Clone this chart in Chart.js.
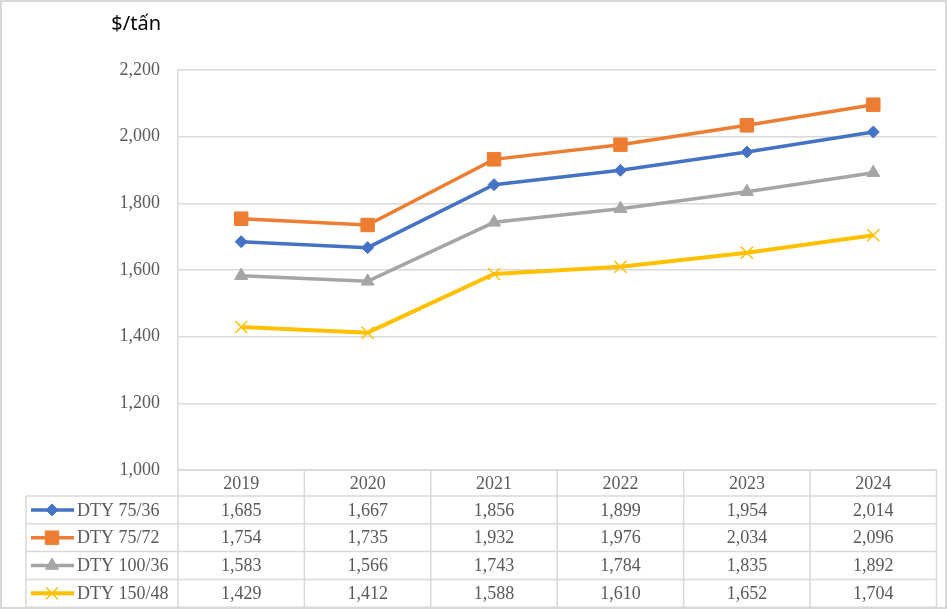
<!DOCTYPE html>
<html>
<head>
<meta charset="utf-8">
<script src="https://cdn.jsdelivr.net/npm/chart.js@4.4.1/dist/chart.umd.min.js"></script>
<style>
  html, body { margin: 0; padding: 0; background: #fff; }
  canvas { display: block; }
</style>
</head>
<body>
<canvas id="chart" width="947" height="609"></canvas>
<script>
// data
const years = ['2019', '2020', '2021', '2022', '2023', '2024'];
const seriesNames = ['DTY 75/36', 'DTY 75/72', 'DTY 100/36', 'DTY 150/48'];
const dty7536 = [1685, 1667, 1856, 1899, 1954, 2014];
const dty7572 = [1754, 1735, 1932, 1976, 2034, 2096];
const dty10036 = [1583, 1566, 1743, 1784, 1835, 1892];
const dty15048 = [1429, 1412, 1588, 1610, 1652, 1704];
const yTicks = [1000, 1200, 1400, 1600, 1800, 2000, 2200];
const unitLabel = '$/tấn';

const colours = ['#4472C4', '#ED7D31', '#A5A5A5', '#FFC000'];
const serif = '"Liberation Serif", "Times New Roman", serif';
const grey = '#d9d9d9';
const textGrey = '#595959';

function fmt(v) {
    return v.toLocaleString('en-US');
}

function ds(label, data, colour, style, radius, lw, pbw) {
    return {
        label: label,
        data: data,
        borderColor: colour,
        backgroundColor: colour,
        borderWidth: lw,
        pointStyle: style,
        pointRadius: radius,
        pointBorderWidth: pbw,
        pointBackgroundColor: colour,
        pointBorderColor: colour,
        tension: 0
    };
}

// table under the plot + unit label + outer border
const tablePlugin = {
    id: 'dataTable',
    afterDraw(chart) {
        const ctx = chart.ctx;
        const x = chart.scales.x;
        const area = chart.chartArea;
        const half = (x.getPixelForValue(1) - x.getPixelForValue(0)) / 2;
        const top = area.bottom;
        const headH = 26;
        const rowH = 27.8;
        const legendLeft = 26;
        const bottom = top + headH + rowH * seriesNames.length;

        ctx.save();
        ctx.strokeStyle = grey;
        ctx.lineWidth = 1.5;
        ctx.beginPath();
        // horizontal lines
        ctx.moveTo(area.left, top);
        ctx.lineTo(area.right, top);
        for (let r = 0; r <= seriesNames.length; r++) {
            const y = top + headH + rowH * r;
            ctx.moveTo(legendLeft, y);
            ctx.lineTo(area.right, y);
        }
        // vertical lines
        for (let i = 0; i <= years.length; i++) {
            const vx = i < years.length ? x.getPixelForValue(i) - half : x.getPixelForValue(i - 1) + half;
            ctx.moveTo(vx, top);
            ctx.lineTo(vx, bottom);
        }
        ctx.moveTo(legendLeft, top + headH);
        ctx.lineTo(legendLeft, bottom);
        ctx.stroke();

        ctx.font = '18px ' + serif;
        ctx.fillStyle = textGrey;
        ctx.textAlign = 'center';
        ctx.textBaseline = 'middle';
        years.forEach((yr, i) => {
            ctx.fillText(yr, x.getPixelForValue(i), top + headH / 2 + 1);
        });

        chart.data.datasets.forEach((d, r) => {
            const cy = top + headH + rowH * r + rowH / 2 + 1;
            ctx.textAlign = 'center';
            ctx.fillStyle = textGrey;
            d.data.forEach((v, i) => {
                ctx.fillText(fmt(v), x.getPixelForValue(i), cy);
            });
            // legend key
            ctx.strokeStyle = d.borderColor;
            ctx.lineWidth = d.borderWidth;
            ctx.beginPath();
            ctx.moveTo(31, cy - 1);
            ctx.lineTo(74, cy - 1);
            ctx.stroke();
            ctx.fillStyle = d.pointBackgroundColor;
            ctx.strokeStyle = d.pointBorderColor;
            ctx.lineWidth = d.pointBorderWidth;
            Chart.helpers.drawPoint(ctx, {
                pointStyle: d.pointStyle,
                radius: d.pointRadius,
                rotation: 0,
                borderWidth: d.pointBorderWidth
            }, 52, cy - 1);
            ctx.fillStyle = textGrey;
            ctx.textAlign = 'left';
            ctx.fillText(d.label, 77, cy);
        });

        // unit label
        ctx.font = '20px "Noto Sans", "Open Sans", sans-serif';
        ctx.fillStyle = '#000';
        ctx.textAlign = 'right';
        ctx.textBaseline = 'alphabetic';
        ctx.fillText(unitLabel, 161, 30);

        // outer border
        ctx.strokeStyle = grey;
        ctx.lineWidth = 2;
        ctx.strokeRect(1, 1, chart.width - 2, chart.height - 2);
        ctx.restore();
    }
};

const chart = new Chart(document.getElementById('chart').getContext('2d'), {
    type: 'line',
    data: {
        labels: years,
        datasets: [
            ds(seriesNames[0], dty7536, colours[0], 'rectRot', 6, 3.5, 1),
            ds(seriesNames[1], dty7572, colours[1], 'rect', 9.5, 3.5, 1),
            ds(seriesNames[2], dty10036, colours[2], 'triangle', 7.5, 3.5, 1),
            ds(seriesNames[3], dty15048, colours[3], 'crossRot', 8.5, 4, 1.5)
        ]
    },
    options: {
        responsive: false,
        animation: false,
        layout: { padding: { top: 70, right: 4, bottom: 0, left: 0 } },
        plugins: {
            legend: { display: false },
            tooltip: { enabled: false },
            title: { display: false }
        },
        scales: {
            x: {
                offset: true,
                grid: { display: false },
                border: { display: false },
                ticks: { display: false },
                afterFit(scale) { scale.height = 139; }
            },
            y: {
                min: yTicks[0],
                max: yTicks[yTicks.length - 1],
                afterBuildTicks(scale) {
                    scale.ticks = yTicks.map(v => ({ value: v }));
                },
                grid: { color: grey, lineWidth: 1.5, drawTicks: false },
                border: { display: true, color: grey, width: 1.5 },
                ticks: {
                    padding: 18,
                    color: textGrey,
                    font: { family: serif, size: 18 },
                    callback: v => fmt(v)
                },
                afterFit(scale) { scale.width = 178; }
            }
        }
    },
    plugins: [tablePlugin]
});
</script>
</body>
</html>
